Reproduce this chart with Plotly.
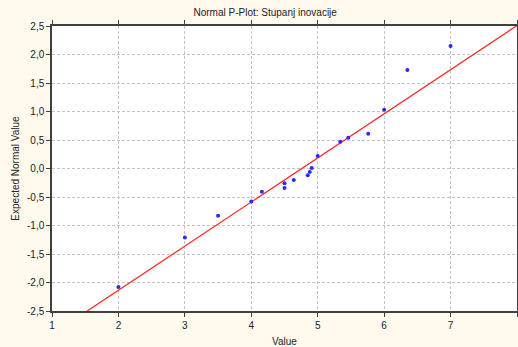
import plotly.graph_objects as go

# Data
values = [2.0, 3.0, 3.5, 4.0, 4.16, 4.5, 4.5, 4.64, 4.85, 4.88, 4.91, 5.0, 5.34, 5.46, 5.76, 6.0, 6.35, 7.0]
expected = [-2.08, -1.21, -0.83, -0.58, -0.41, -0.26, -0.34, -0.20, -0.12, -0.06, 0.01, 0.22, 0.47, 0.54, 0.61, 1.03, 1.73, 2.15]

line_slope = 0.774
line_intercept = -3.684
line_x = [1, 8]

x_ticks = [1, 2, 3, 4, 5, 6, 7, 8]
y_ticks = [-2.5, -2.0, -1.5, -1.0, -0.5, 0.0, 0.5, 1.0, 1.5, 2.0, 2.5]
y_tick_labels = ["-2,5", "-2,0", "-1,5", "-1,0", "-0,5", "0,0", "0,5", "1,0", "1,5", "2,0", "2,5"]

title_text = "Normal P-Plot: Stupanj inovacije"
x_title = "Value"
y_title = "Expected Normal Value"

line_y = [line_slope * xv + line_intercept for xv in line_x]

fig = go.Figure()
fig.add_trace(go.Scatter(x=line_x, y=line_y, mode="lines",
                         line=dict(color="#ff2020", width=1.2), hoverinfo="skip"))
fig.add_trace(go.Scatter(x=values, y=expected, mode="markers",
                         marker=dict(color="#2a2aff", size=4, line=dict(width=0))))

font_family = "Liberation Sans, Arial, sans-serif"
axis_common = dict(
    showline=True, linecolor="#404040", linewidth=1.5, mirror="ticks",
    ticks="outside", ticklen=4, tickcolor="#404040", tickwidth=1,
    showgrid=True, gridcolor="#c4c4c4", griddash="3px,2px", gridwidth=1,
    zeroline=False, automargin=False,
    tickfont=dict(family=font_family, size=10, color="#222222"),
)

fig.update_layout(
    width=518, height=347,
    margin=dict(l=52, r=1, t=26, b=36),
    paper_bgcolor="#fff9ee", plot_bgcolor="#ffffff",
    showlegend=False,
    title=dict(text=title_text, x=0.512, xanchor="center", y=0.965, yanchor="middle",
               font=dict(family=font_family, size=10, color="#222222")),
    xaxis=dict(range=[1, 8], tickvals=x_ticks,
               title=dict(text=x_title, font=dict(family=font_family, size=10, color="#222222"), standoff=8),
               **axis_common),
    yaxis=dict(range=[-2.5, 2.5], tickvals=y_ticks, ticktext=y_tick_labels,
               title=dict(text=y_title, font=dict(family=font_family, size=10, color="#222222"), standoff=6),
               **axis_common),
)

fig.write_html("out.html", config={"displayModeBar": False},
               post_script="document.body.style.margin='0';document.body.style.background='#fff9ee';")
